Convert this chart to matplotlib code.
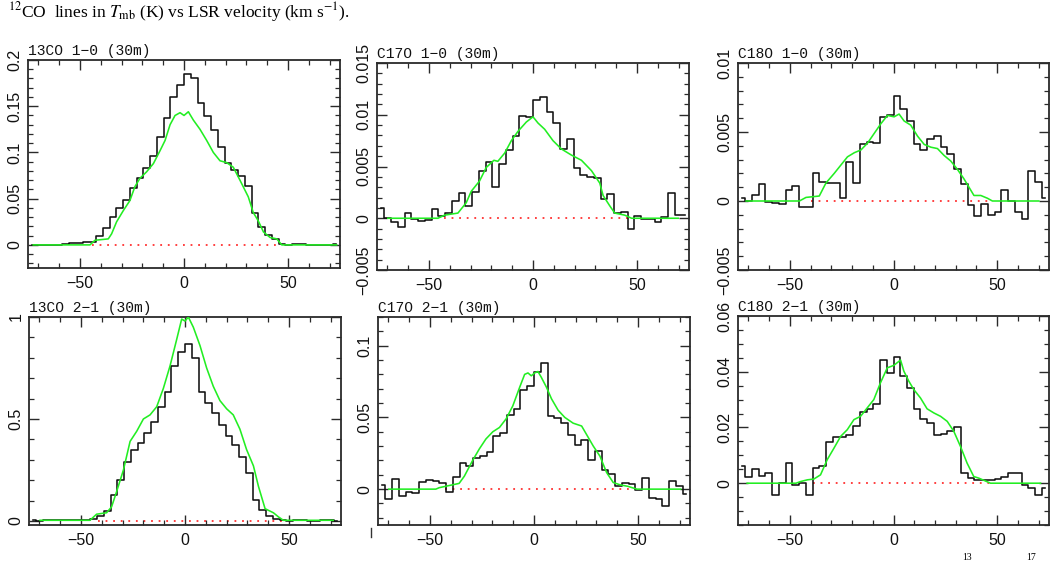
import numpy as np
import matplotlib
matplotlib.use("Agg")
import matplotlib.pyplot as plt
from matplotlib.lines import Line2D
from matplotlib.ticker import MultipleLocator, FuncFormatter

plt.rcParams['mathtext.fontset'] = 'stix'

# channel grid (km/s), 46 channels of 3.25 km/s
chan_width = 3.25
vel = np.arange(46) * chan_width - 73.125

# observed spectra (black histograms), Tmb in K
t13co10 = [0.0, 0.0, 0.0, 0.0, 0.0, 0.001, 0.002, 0.002, 0.003, 0.003, 0.010, 0.018,
           0.030, 0.040, 0.049, 0.061, 0.072, 0.083, 0.096, 0.117, 0.137, 0.160, 0.173,
           0.185, 0.181, 0.154, 0.139, 0.124, 0.106, 0.089, 0.081, 0.074, 0.064, 0.034,
           0.019, 0.011, 0.006, 0.001, 0.0, 0.001, 0.001, 0.0, 0.0, 0.0, 0.0, 0.001]
tc17o10 = [0.001, 0.0, -0.0004, -0.0008, 0.0005, -0.0001, -0.0003, -0.0002, 0.0009, 0.0002,
           0.0005, 0.0017, 0.0024, 0.0012, 0.0025, 0.0046, 0.0054, 0.003, 0.0052, 0.0066,
           0.0079, 0.0099, 0.0098, 0.0114, 0.0117, 0.0103, 0.0092, 0.0067, 0.0077, 0.0049,
           0.0042, 0.004, 0.0039, 0.0019, 0.0023, 0.0005, 0.0006, -0.001, 0.0002, -0.0001,
           -0.0001, -0.0004, 0.0001, 0.0024, 0.0003, 0.0003]
tc18o10 = [0.0002, 0.0, 0.0004, 0.0012, -0.0001, -0.00015, -0.0002, 0.0008, 0.0011, -0.00045,
           -0.0004, 0.002, 0.0014, 0.0013, 0.0013, 0.0002, 0.0028, 0.0013, 0.0041, 0.0043,
           0.0042, 0.0061, 0.0062, 0.0076, 0.0067, 0.0058, 0.0041, 0.0037, 0.0045, 0.0047,
           0.0039, 0.0034, 0.0023, 0.0012, -0.0003, -0.0011, -0.0002, -0.001, -0.0008, 0.0008,
           0.0, -0.0008, -0.0013, 0.0022, 0.0014, 0.0002]
t13co21 = [0.003, 0.002, 0.003, 0.004, 0.003, 0.004, 0.004, 0.005, 0.006, 0.007, 0.023, 0.05,
           0.126, 0.2, 0.29, 0.35, 0.38, 0.43, 0.487, 0.557, 0.634, 0.76, 0.83, 0.867, 0.8,
           0.634, 0.577, 0.528, 0.47, 0.416, 0.372, 0.315, 0.236, 0.105, 0.052, 0.025, 0.008,
           0.003, 0.002, 0.003, 0.004, 0.002, 0.002, 0.003, 0.004, 0.002]
tc17o21 = [0.003, -0.007, 0.0074, -0.005, -0.0023, -0.003, 0.005, 0.0065, 0.0055, 0.0046,
           -0.0023, 0.0088, 0.018, 0.016, 0.022, 0.023, 0.026, 0.0367, 0.039, 0.0516, 0.056,
           0.069, 0.072, 0.082, 0.088, 0.0507, 0.0495, 0.0458, 0.0376, 0.0309, 0.034, 0.0205,
           0.0267, 0.0135, 0.0105, 0.0023, 0.0045, 0.0035, -0.0007, 0.008, -0.0065, -0.007,
           -0.0116, 0.0058, 0.0023, -0.0035]
tc18o21 = [0.006, 0.0024, 0.005, 0.0026, 0.0036, -0.0042, 0.0, 0.0074, -0.0008, 0.0, -0.0042,
           0.0054, 0.006, 0.0148, 0.0165, 0.0166, 0.0172, 0.0207, 0.0256, 0.0268, 0.0286,
           0.0442, 0.0396, 0.0453, 0.0384, 0.0342, 0.0267, 0.0232, 0.0216, 0.0172, 0.0177,
           0.0186, 0.0202, 0.0038, 0.0018, 0.0012, 0.001, 0.0012, 0.0014, 0.0024, 0.0036,
           0.0038, -0.0006, -0.0018, -0.0042, -0.0018]

# model spectra (green curves)
g13co10_v = [-72.5, -45.2, -42.8, -36.4, -34.8, -32.4, -29.2, -26.0, -23.6, -21.2, -18.0, -14.7,
             -11.5, -9.1, -6.7, -4.3, -1.9, 0.0, 2.1, 4.5, 7.7, 10.9, 14.1, 17.3, 20.5, 23.7,
             26.9, 30.9, 33.3, 35.7, 38.2, 41.4, 44.6, 47.0, 51.0, 73.4]
g13co10_t = [0.0, 0.0, 0.005, 0.0065, 0.012, 0.025, 0.037, 0.048, 0.063, 0.072, 0.079, 0.088,
             0.102, 0.113, 0.13, 0.14, 0.143, 0.14, 0.144, 0.135, 0.125, 0.113, 0.1, 0.091,
             0.089, 0.084, 0.07, 0.052, 0.035, 0.026, 0.014, 0.008, 0.0065, 0.0, 0.0, 0.0]
gc17o10_v = [-69.8, -45.7, -42.5, -36.1, -32.1, -29.7, -25.7, -22.5, -18.8, -16.9, -13.6, -10.4,
             -7.2, -3.2, 0.0, 2.4, 5.6, 9.6, 13.6, 18.5, 23.3, 28.1, 32.1, 33.7, 36.9, 39.3,
             44.1, 47.4, 69.8]
gc17o10_t = [0.0, 0.0, 0.0003, 0.0005, 0.0015, 0.0026, 0.0036, 0.0049, 0.0056, 0.0055, 0.0063,
             0.0075, 0.0084, 0.0093, 0.0098, 0.0092, 0.0086, 0.0075, 0.0067, 0.0061, 0.0056,
             0.0046, 0.0034, 0.0022, 0.0012, 0.0005, 0.0003, 0.0, 0.0]
gc18o10_v = [-71.1, -45.4, -42.2, -35.8, -32.6, -28.6, -25.4, -22.2, -18.9, -15.7, -12.5, -9.3,
             -6.1, -2.9, 0.3, 2.7, 5.1, 8.3, 11.6, 14.8, 18.0, 21.2, 24.4, 27.6, 30.8, 34.0,
             36.4, 38.8, 42.1, 45.3, 47.7, 70.1]
gc18o10_t = [0.0, 0.0, 0.00026, 0.00036, 0.0013, 0.002, 0.0026, 0.0032, 0.0035, 0.0037, 0.0042,
             0.0049, 0.0056, 0.0062, 0.0061, 0.0063, 0.0058, 0.0055, 0.0047, 0.0041, 0.0039,
             0.0038, 0.0033, 0.0029, 0.0023, 0.0016, 0.001, 0.0004, 0.0004, 0.0002, 0.0, 0.0]
g13co21_v = [-69.7, -45.7, -42.5, -37.7, -35.3, -32.9, -29.6, -26.4, -23.2, -20.0, -16.8, -13.6,
             -10.4, -7.2, -4.0, -1.6, 0.0, 1.6, 4.0, 7.2, 10.4, 13.6, 16.8, 20.0, 23.2, 26.4,
             29.6, 32.9, 35.3, 38.5, 42.5, 44.9, 47.3, 71.3]
g13co21_t = [0.003, 0.003, 0.033, 0.04, 0.069, 0.143, 0.25, 0.39, 0.44, 0.5, 0.52, 0.56, 0.65,
             0.76, 0.89, 0.99, 0.98, 1.0, 0.95, 0.86, 0.75, 0.66, 0.59, 0.55, 0.52, 0.45, 0.35,
             0.27, 0.17, 0.06, 0.04, 0.02, 0.003, 0.003]
gc17o21_v = [-69.8, -47.2, -45.6, -39.2, -36.0, -33.5, -29.5, -26.3, -23.1, -19.8, -16.6, -13.4,
             -10.2, -6.9, -4.5, -2.9, -1.3, 0.3, 1.9, 3.5, 6.0, 8.4, 11.6, 14.8, 18.8, 22.9,
             25.3, 28.5, 31.7, 34.9, 38.1, 41.4, 45.0, 49.5, 70.5]
gc17o21_t = [0.0, 0.0, 0.001, 0.003, 0.004, 0.009, 0.02, 0.028, 0.035, 0.04, 0.043, 0.049,
             0.058, 0.071, 0.08, 0.081, 0.079, 0.081, 0.082, 0.078, 0.071, 0.063, 0.055, 0.05,
             0.046, 0.044, 0.038, 0.03, 0.023, 0.0116, 0.0046, 0.003, 0.002, 0.0, 0.0]
gc18o21_v = [-70.6, -47.0, -44.8, -41.6, -38.4, -35.2, -32.0, -28.7, -25.5, -22.3, -19.1, -15.9,
             -12.7, -9.5, -6.3, -3.0, 0.2, 3.4, 5.0, 7.4, 9.8, 13.0, 16.2, 19.5, 22.7, 25.9,
             29.1, 32.3, 35.5, 38.7, 41.2, 46.8, 70.9]
gc18o21_t = [0.0, 0.0, 0.0006, 0.0012, 0.0015, 0.003, 0.0084, 0.0126, 0.0168, 0.0192, 0.0228,
             0.024, 0.027, 0.03, 0.036, 0.0414, 0.0423, 0.0442, 0.0402, 0.0366, 0.0336, 0.0306,
             0.0267, 0.0252, 0.024, 0.0222, 0.0186, 0.0132, 0.0072, 0.0024, 0.0018, 0.0, 0.0]

titles = ['13CO 1\u22120 (30m)', 'C17O 1\u22120 (30m)', 'C18O 1\u22120 (30m)',
          '13CO 2\u22121 (30m)', 'C17O 2\u22121 (30m)', 'C18O 2\u22121 (30m)']
obs = [t13co10, tc17o10, tc18o10, t13co21, tc17o21, tc18o21]
mod_v = [g13co10_v, gc17o10_v, gc18o10_v, g13co21_v, gc17o21_v, gc18o21_v]
mod_t = [g13co10_t, gc17o10_t, gc18o10_t, g13co21_t, gc17o21_t, gc18o21_t]
baseline = [(-44, 45), (-43, 45.5), (-40, 47), (-42, 47.5), (-43, 46), (-39, 47)]
ylims = [(-0.025, 0.2), (-0.005, 0.015), (-0.005, 0.01),
         (-0.02, 1.0), (-0.025, 0.12), (-0.015, 0.06)]
ymajor = [0.05, 0.005, 0.005, 0.5, 0.05, 0.02]
yminor = [0.01, 0.001, 0.001, 0.1, 0.01, 0.005]

# axes boxes in pixels: left, top, right, bottom
W, H = 1057, 563
boxes = [(28, 60, 340, 268), (377, 63, 689, 270), (738, 63, 1049, 270),
         (29, 317, 341, 525), (378, 317, 690, 525), (738, 316, 1049, 525)]


def fmt(v, pos):
    s = '%g' % round(v, 6)
    if s in ('-0', '0.0'):
        s = '0'
    return s.replace('-', '\u2212')


fig = plt.figure(figsize=(W / 100, H / 100), dpi=100)
frame = '#2a2a2a'

for i in range(6):
    l, t, r, b = boxes[i]
    ax = fig.add_axes([l / W, 1 - b / H, (r - l) / W, (b - t) / H])
    ax.plot(baseline[i], [0, 0], color='#ff3030', lw=1.3, ls=(0, (1, 3.2)), zorder=1)
    ax.step(vel, obs[i], where='mid', color='#111111', lw=1.15, zorder=2)
    ax.plot(mod_v[i], mod_t[i], color='#22ee22', lw=1.15, zorder=3)

    ax.set_xlim(-75, 75)
    ax.set_ylim(*ylims[i])
    ax.xaxis.set_major_locator(MultipleLocator(50))
    ax.xaxis.set_minor_locator(MultipleLocator(10))
    ax.yaxis.set_major_locator(MultipleLocator(ymajor[i]))
    ax.yaxis.set_minor_locator(MultipleLocator(yminor[i]))
    ax.xaxis.set_major_formatter(FuncFormatter(fmt))
    ax.yaxis.set_major_formatter(FuncFormatter(fmt))

    ax.tick_params(which='both', direction='in', top=True, right=True, color=frame,
                   labelsize=11.5, labelcolor='#111111')
    ax.tick_params(which='major', length=7, width=1.0)
    ax.tick_params(which='minor', length=3.5, width=0.9)
    ax.tick_params(axis='x', pad=6)
    ax.tick_params(axis='y', pad=4, labelrotation=90)
    for lab in ax.get_yticklabels() + ax.get_xticklabels():
        lab.set_fontfamily('Liberation Sans')
    for lab in ax.get_yticklabels():
        lab.set_va('center')
    for sp in ax.spines.values():
        sp.set_color(frame)
        sp.set_linewidth(1.3)

    ax.text(0.0, 1.008, titles[i], transform=ax.transAxes, ha='left', va='bottom',
            fontfamily='Liberation Mono', fontsize=10.5, color='#111111')

fig.text(8 / W, 1 - 17.5 / H,
         r'$^{12}$CO  lines in $T_{\rm mb}$ (K) vs LSR velocity (km s$^{-1}$).',
         fontfamily='Liberation Serif', fontsize=12.5, ha='left', va='baseline')
# start of the next caption line at the bottom edge
fig.text(962 / W, 1 - 562 / H, '13', fontfamily='Liberation Serif', fontsize=7,
         ha='left', va='bottom')
fig.text(1026 / W, 1 - 562 / H, '17', fontfamily='Liberation Serif', fontsize=7,
         ha='left', va='bottom')
# stray scan mark left of the bottom-middle panel
fig.add_artist(Line2D([371 / W, 371 / W], [1 - 537 / H, 1 - 528 / H],
                      color='#333333', lw=1.0))

fig.savefig('out.png', dpi=100)
